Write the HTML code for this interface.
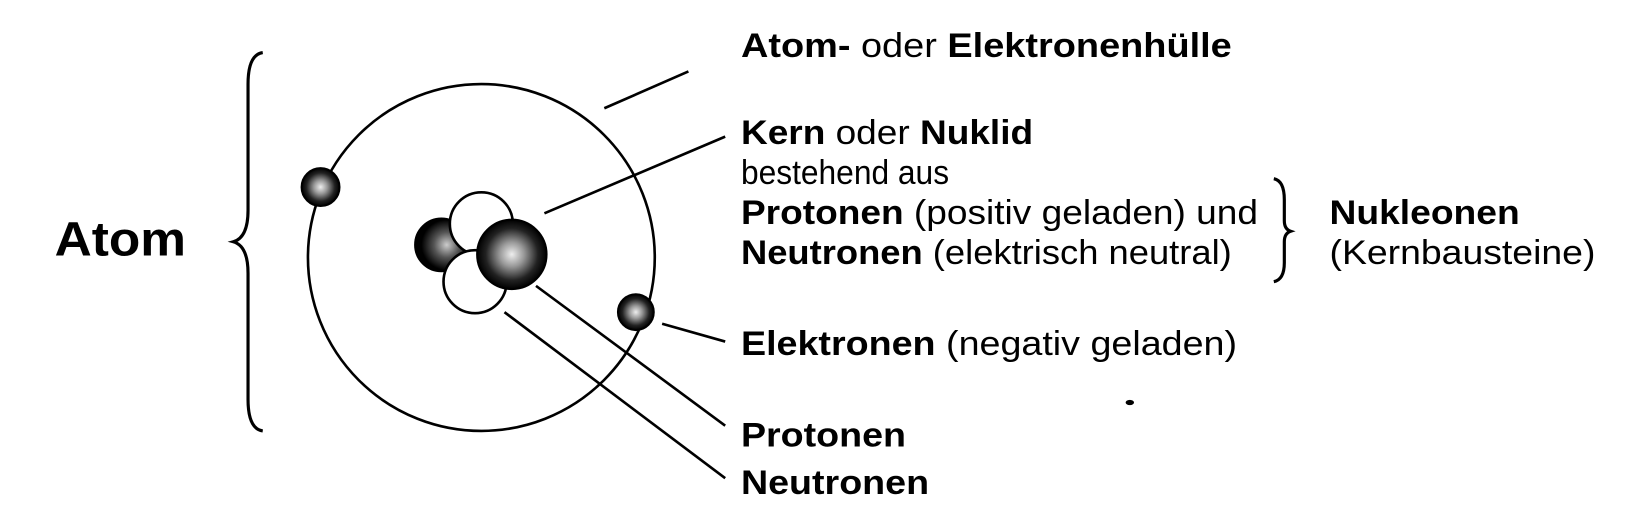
<!DOCTYPE html>
<html><head><meta charset="utf-8"><style>html,body{margin:0;padding:0;background:#fff}svg{display:block}</style></head>
<body>
<svg width="1648" height="515" viewBox="0 0 1648 515" xmlns="http://www.w3.org/2000/svg" font-family="Liberation Sans, Arial, sans-serif">
<defs>
<radialGradient id="g" cx="0.5" cy="0.5" r="0.5">
<stop offset="0" stop-color="#eee"/><stop offset="0.35" stop-color="#999"/><stop offset="0.75" stop-color="#222"/><stop offset="1" stop-color="#000"/>
</radialGradient>
<radialGradient id="g2" cx="0.6" cy="0.5" r="0.6">
<stop offset="0" stop-color="#ccc"/><stop offset="0.4" stop-color="#555"/><stop offset="0.8" stop-color="#000"/>
</radialGradient>
</defs>
<g transform="scale(1.051)">
<g stroke="#000" stroke-width="2.5" fill="none">
<circle cx="458" cy="245" r="165"/>
<line x1="575" y1="103" x2="655" y2="68"/>
<line x1="518" y1="203" x2="690" y2="130"/>
<line x1="510" y1="272" x2="690" y2="405"/>
<line x1="480" y1="297" x2="690" y2="455"/>
<line x1="630" y1="308" x2="690" y2="325"/>
<path d="M250 50 Q236 52 236 80 L236 200 Q236 226 222 230 Q236 234 236 260 L236 380 Q236 408 250 410" stroke-width="3"/>
<path d="M1212 170 Q1222 172 1222 190 L1222 210 Q1222 218 1228 220 Q1222 222 1222 230 L1222 250 Q1222 266 1212 268" stroke-width="3"/>
</g>
<circle cx="420" cy="233" r="25" fill="url(#g2)" stroke="#000" stroke-width="2"/>
<circle cx="458" cy="213" r="30" fill="#fff" stroke="#000" stroke-width="2.5"/>
<circle cx="452" cy="268" r="30" fill="#fff" stroke="#000" stroke-width="2.5"/>
<circle cx="487" cy="242" r="33" fill="url(#g)" stroke="#000" stroke-width="2"/>
<circle cx="305" cy="178" r="18" fill="url(#g)" stroke="#000" stroke-width="2"/>
<circle cx="605" cy="297" r="17" fill="url(#g)" stroke="#000" stroke-width="2"/>
<ellipse cx="1075" cy="383" rx="4" ry="2.5" fill="#000"/>
<g font-size="33" fill="#000">
<text x="52" y="243" font-size="46" font-weight="bold" textLength="125" lengthAdjust="spacingAndGlyphs">Atom</text>
<text x="705" y="54" textLength="467" lengthAdjust="spacingAndGlyphs"><tspan font-weight="bold">Atom-</tspan> oder <tspan font-weight="bold">Elektronenhülle</tspan></text>
<text x="705" y="137" textLength="278" lengthAdjust="spacingAndGlyphs"><tspan font-weight="bold">Kern</tspan> oder <tspan font-weight="bold">Nuklid</tspan></text>
<text x="705" y="175" textLength="198" lengthAdjust="spacingAndGlyphs">bestehend aus</text>
<text x="705" y="213" textLength="492" lengthAdjust="spacingAndGlyphs"><tspan font-weight="bold">Protonen</tspan> (positiv geladen) und</text>
<text x="705" y="251" textLength="467" lengthAdjust="spacingAndGlyphs"><tspan font-weight="bold">Neutronen</tspan> (elektrisch neutral)</text>
<text x="1265" y="213" font-weight="bold" textLength="181" lengthAdjust="spacingAndGlyphs">Nukleonen</text>
<text x="1265" y="251" textLength="253" lengthAdjust="spacingAndGlyphs">(Kernbausteine)</text>
<text x="705" y="338" textLength="472" lengthAdjust="spacingAndGlyphs"><tspan font-weight="bold">Elektronen</tspan> (negativ geladen)</text>
<text x="705" y="425" font-weight="bold" textLength="157" lengthAdjust="spacingAndGlyphs">Protonen</text>
<text x="705" y="470" font-weight="bold" textLength="179" lengthAdjust="spacingAndGlyphs">Neutronen</text>
</g>
</g>
</svg>
</body></html>
